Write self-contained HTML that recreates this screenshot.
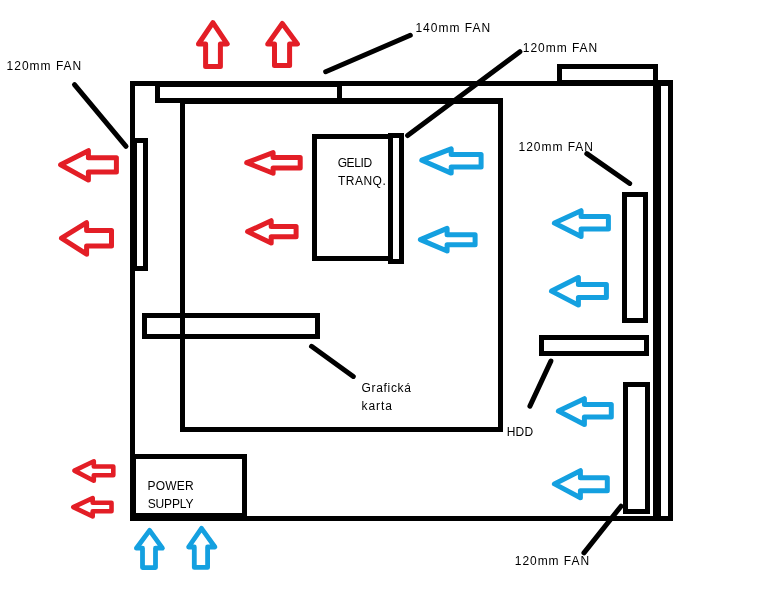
<!DOCTYPE html>
<html><head><meta charset="utf-8"><style>
html,body{margin:0;padding:0;background:#fff;width:768px;height:614px;overflow:hidden;position:relative}
svg{display:block;position:absolute;left:0;top:0}
#t{will-change:transform}
text{font-family:"Liberation Sans",sans-serif;fill:#000}
</style></head><body>
<svg width="768" height="614" viewBox="0 0 768 614">
<rect width="768" height="614" fill="#fff"/>
<rect x="130.00" y="81.00" width="543.00" height="5.00" fill="#000"/>
<rect x="130.00" y="516.00" width="543.00" height="5.00" fill="#000"/>
<rect x="130.00" y="81.00" width="5.00" height="440.00" fill="#000"/>
<rect x="668.00" y="81.00" width="5.00" height="440.00" fill="#000"/>
<rect x="557.00" y="64.00" width="101.00" height="5.00" fill="#000"/>
<rect x="557.00" y="80.00" width="101.00" height="5.00" fill="#000"/>
<rect x="557.00" y="64.00" width="5.00" height="21.00" fill="#000"/>
<rect x="653.00" y="64.00" width="5.00" height="21.00" fill="#000"/>
<rect x="653.00" y="80.00" width="8.00" height="441.00" fill="#000"/>
<rect x="557.00" y="80.00" width="116.00" height="5.00" fill="#000"/>
<rect x="155.00" y="81.00" width="187.00" height="6.00" fill="#000"/>
<rect x="155.00" y="98.00" width="187.00" height="5.00" fill="#000"/>
<rect x="155.00" y="81.00" width="5.00" height="22.00" fill="#000"/>
<rect x="337.00" y="81.00" width="5.00" height="22.00" fill="#000"/>
<rect x="180.00" y="98.00" width="323.00" height="6.00" fill="#000"/>
<rect x="180.00" y="427.00" width="323.00" height="5.00" fill="#000"/>
<rect x="180.00" y="98.00" width="5.00" height="334.00" fill="#000"/>
<rect x="498.00" y="98.00" width="5.00" height="334.00" fill="#000"/>
<rect x="312.00" y="134.00" width="81.00" height="5.00" fill="#000"/>
<rect x="312.00" y="256.00" width="81.00" height="5.00" fill="#000"/>
<rect x="312.00" y="134.00" width="5.00" height="127.00" fill="#000"/>
<rect x="388.00" y="134.00" width="5.00" height="127.00" fill="#000"/>
<rect x="388.00" y="133.00" width="16.00" height="5.00" fill="#000"/>
<rect x="388.00" y="259.00" width="16.00" height="5.00" fill="#000"/>
<rect x="388.00" y="133.00" width="5.00" height="131.00" fill="#000"/>
<rect x="399.00" y="133.00" width="5.00" height="131.00" fill="#000"/>
<rect x="132.00" y="138.00" width="16.00" height="5.00" fill="#000"/>
<rect x="132.00" y="266.00" width="16.00" height="5.00" fill="#000"/>
<rect x="132.00" y="138.00" width="5.00" height="133.00" fill="#000"/>
<rect x="143.00" y="138.00" width="5.00" height="133.00" fill="#000"/>
<rect x="142.00" y="313.00" width="178.00" height="5.00" fill="#000"/>
<rect x="142.00" y="334.00" width="178.00" height="5.00" fill="#000"/>
<rect x="142.00" y="313.00" width="5.00" height="26.00" fill="#000"/>
<rect x="315.00" y="313.00" width="5.00" height="26.00" fill="#000"/>
<rect x="622.00" y="192.00" width="26.00" height="5.00" fill="#000"/>
<rect x="622.00" y="318.00" width="26.00" height="5.00" fill="#000"/>
<rect x="622.00" y="192.00" width="5.00" height="131.00" fill="#000"/>
<rect x="643.00" y="192.00" width="5.00" height="131.00" fill="#000"/>
<rect x="539.00" y="335.00" width="110.00" height="5.00" fill="#000"/>
<rect x="539.00" y="351.00" width="110.00" height="5.00" fill="#000"/>
<rect x="539.00" y="335.00" width="5.00" height="21.00" fill="#000"/>
<rect x="644.00" y="335.00" width="5.00" height="21.00" fill="#000"/>
<rect x="623.00" y="382.00" width="27.00" height="5.00" fill="#000"/>
<rect x="623.00" y="509.00" width="27.00" height="5.00" fill="#000"/>
<rect x="623.00" y="382.00" width="5.00" height="132.00" fill="#000"/>
<rect x="645.00" y="382.00" width="5.00" height="132.00" fill="#000"/>
<rect x="130.00" y="454.00" width="117.00" height="5.00" fill="#000"/>
<rect x="130.00" y="513.00" width="117.00" height="8.00" fill="#000"/>
<rect x="130.00" y="454.00" width="6.00" height="67.00" fill="#000"/>
<rect x="242.00" y="454.00" width="5.00" height="67.00" fill="#000"/>
<line x1="74.48" y1="84.58" x2="126.02" y2="146.42" stroke="#000" stroke-width="5.0" stroke-linecap="round"/>
<line x1="325.69" y1="71.70" x2="410.31" y2="35.30" stroke="#000" stroke-width="5.0" stroke-linecap="round"/>
<line x1="519.90" y1="51.65" x2="407.60" y2="135.55" stroke="#000" stroke-width="5.0" stroke-linecap="round"/>
<line x1="586.82" y1="153.63" x2="629.68" y2="183.47" stroke="#000" stroke-width="5.0" stroke-linecap="round"/>
<line x1="550.88" y1="361.08" x2="529.92" y2="406.12" stroke="#000" stroke-width="5.0" stroke-linecap="round"/>
<line x1="621.03" y1="506.19" x2="583.97" y2="552.91" stroke="#000" stroke-width="5.0" stroke-linecap="round"/>
<line x1="311.51" y1="346.34" x2="353.29" y2="376.46" stroke="#000" stroke-width="5.0" stroke-linecap="round"/>
<polygon points="212.90,22.60 227.20,44.00 220.40,44.00 220.40,66.40 205.60,66.40 205.60,44.00 198.50,44.00" fill="none" stroke="#E31E26" stroke-width="5.0" stroke-linejoin="round"/>
<polygon points="282.30,23.50 297.40,44.10 289.60,44.10 289.60,65.40 274.50,65.40 274.50,44.10 267.70,44.10" fill="none" stroke="#E31E26" stroke-width="5.0" stroke-linejoin="round"/>
<polygon points="60.60,164.80 88.40,150.70 88.40,157.70 116.40,157.70 116.40,172.10 88.40,172.10 88.40,180.10" fill="none" stroke="#E31E26" stroke-width="5.0" stroke-linejoin="round"/>
<polygon points="61.50,238.20 86.60,222.70 86.60,230.60 111.50,230.60 111.50,246.10 86.60,246.10 86.60,254.20" fill="none" stroke="#E31E26" stroke-width="5.0" stroke-linejoin="round"/>
<polygon points="246.70,162.70 273.10,152.70 273.10,157.60 300.20,157.60 300.20,167.90 273.10,167.90 273.10,173.20" fill="none" stroke="#E31E26" stroke-width="5.0" stroke-linejoin="round"/>
<polygon points="247.60,231.60 271.20,220.70 271.20,226.40 296.10,226.40 296.10,236.80 271.20,236.80 271.20,243.00" fill="none" stroke="#E31E26" stroke-width="5.0" stroke-linejoin="round"/>
<polygon points="74.40,470.60 93.80,461.30 93.80,466.50 113.30,466.50 113.30,475.20 93.80,475.20 93.80,480.70" fill="none" stroke="#E31E26" stroke-width="4.6" stroke-linejoin="round"/>
<polygon points="73.30,507.10 92.70,498.10 92.70,502.80 111.50,502.80 111.50,511.20 92.70,511.20 92.70,516.40" fill="none" stroke="#E31E26" stroke-width="4.6" stroke-linejoin="round"/>
<polygon points="421.80,160.20 451.20,148.80 451.20,154.50 481.10,154.50 481.10,166.90 451.20,166.90 451.20,173.10" fill="none" stroke="#14A0E0" stroke-width="5.0" stroke-linejoin="round"/>
<polygon points="420.40,239.60 447.10,228.40 447.10,234.80 475.10,234.80 475.10,244.80 447.10,244.80 447.10,251.00" fill="none" stroke="#14A0E0" stroke-width="5.0" stroke-linejoin="round"/>
<polygon points="554.40,223.10 581.10,210.70 581.10,216.40 608.40,216.40 608.40,229.10 581.10,229.10 581.10,236.40" fill="none" stroke="#14A0E0" stroke-width="5.0" stroke-linejoin="round"/>
<polygon points="551.50,291.10 578.40,277.50 578.40,284.40 606.40,284.40 606.40,297.60 578.40,297.60 578.40,305.10" fill="none" stroke="#14A0E0" stroke-width="5.0" stroke-linejoin="round"/>
<polygon points="558.40,411.10 584.40,398.70 584.40,404.40 611.30,404.40 611.30,417.10 584.40,417.10 584.40,424.40" fill="none" stroke="#14A0E0" stroke-width="5.0" stroke-linejoin="round"/>
<polygon points="554.40,483.90 580.40,470.70 580.40,477.70 607.30,477.70 607.30,490.70 580.40,490.70 580.40,497.80" fill="none" stroke="#14A0E0" stroke-width="5.0" stroke-linejoin="round"/>
<polygon points="149.60,530.40 162.40,548.20 155.50,548.20 155.50,567.60 142.50,567.60 142.50,548.20 136.40,548.20" fill="none" stroke="#14A0E0" stroke-width="4.8" stroke-linejoin="round"/>
<polygon points="201.50,528.30 214.90,547.00 207.60,547.00 207.60,567.40 194.30,567.40 194.30,547.00 188.60,547.00" fill="none" stroke="#14A0E0" stroke-width="4.8" stroke-linejoin="round"/>
</svg>
<svg id="t" width="768" height="614" viewBox="0 0 768 614">
<text x="6.60" y="70.00" font-size="12.0" letter-spacing="1.000">120mm FAN</text>
<text x="415.40" y="32.00" font-size="12.0" letter-spacing="1.013">140mm FAN</text>
<text x="522.80" y="51.80" font-size="12.0" letter-spacing="0.963">120mm FAN</text>
<text x="518.60" y="151.00" font-size="12.0" letter-spacing="0.962">120mm FAN</text>
<text x="337.70" y="166.90" font-size="12.0" letter-spacing="-0.400">GELID</text>
<text x="338.00" y="184.90" font-size="12.0" letter-spacing="0.480">TRANQ.</text>
<text x="361.50" y="391.60" font-size="12.0" letter-spacing="0.679">Grafická</text>
<text x="361.50" y="409.70" font-size="12.0" letter-spacing="0.925">karta</text>
<text x="506.70" y="435.90" font-size="12.0" letter-spacing="0.200">HDD</text>
<text x="147.60" y="489.80" font-size="12.0" letter-spacing="0.175">POWER</text>
<text x="147.75" y="507.70" font-size="12.0" letter-spacing="-0.150">SUPPLY</text>
<text x="514.80" y="564.70" font-size="12.0" letter-spacing="0.950">120mm FAN</text>
</svg>
</body></html>
